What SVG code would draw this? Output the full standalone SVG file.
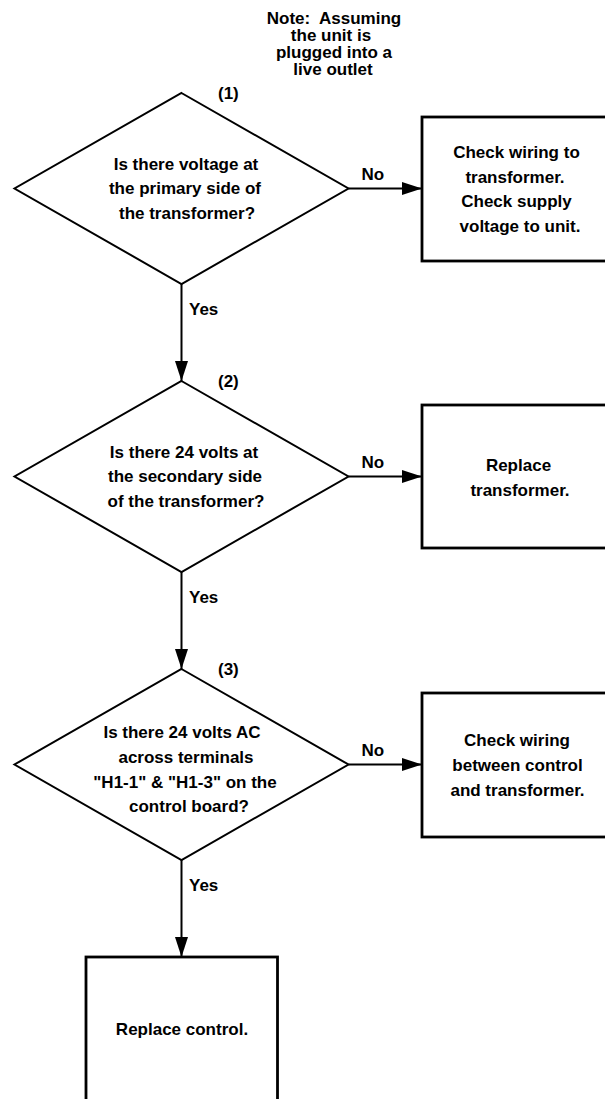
<svg xmlns="http://www.w3.org/2000/svg" width="605" height="1099" viewBox="0 0 605 1099">
<style>
text{font-family:"Liberation Sans",Arial,Helvetica,sans-serif;font-weight:bold;font-size:17px;fill:#000}
.c{text-anchor:middle}
.dia{fill:#fff;stroke:#000;stroke-width:2}
.box{fill:#fff;stroke:#000;stroke-width:2.8}
.con{fill:none;stroke:#000;stroke-width:2;marker-end:url(#ah)}
</style>
<defs>
<marker id="ah" markerUnits="userSpaceOnUse" markerWidth="20" markerHeight="13" refX="20" refY="6.5" orient="auto">
<path d="M0,0 L20,6.5 L0,13 Z" fill="#000"/>
</marker>
</defs>
<rect width="605" height="1099" fill="#fff"/>
<g id="note">
<text class="c" x="334" y="24">Note:&#160; Assuming</text>
<text class="c" x="331" y="41">the unit is</text>
<text class="c" x="334" y="58">plugged into a</text>
<text class="c" x="333" y="75">live outlet</text>
</g>
<g id="connectors">
<line class="con" x1="348.5" y1="188.5" x2="422" y2="188.5"/>
<line class="con" x1="181.5" y1="284" x2="181.5" y2="381"/>
<line class="con" x1="348.5" y1="476.5" x2="422" y2="476.5"/>
<line class="con" x1="181.5" y1="572" x2="181.5" y2="669"/>
<line class="con" x1="348.5" y1="764.5" x2="422" y2="764.5"/>
<line class="con" x1="181.5" y1="860" x2="181.5" y2="957"/>
<text x="361.5" y="180">No</text>
<text x="361.5" y="468">No</text>
<text x="361.5" y="756">No</text>
<text x="189" y="315">Yes</text>
<text x="189" y="603">Yes</text>
<text x="189" y="891">Yes</text>
</g>
<g id="d1">
<polygon class="dia" points="181.5,93 348.5,188.5 181.5,284 14.5,188.5"/>
<text x="218" y="98.5">(1)</text>
<text class="c" x="186" y="169.5">Is there voltage at</text>
<text class="c" x="185" y="194">the primary side of</text>
<text class="c" x="187" y="218.5">the transformer?</text>
</g>
<g id="b1">
<rect class="box" x="422" y="117" width="200" height="144"/>
<text class="c" x="516.5" y="158">Check wiring to</text>
<text class="c" x="515" y="182.5">transformer.</text>
<text class="c" x="516.5" y="207">Check supply</text>
<text class="c" x="520" y="231.5">voltage to unit.</text>
</g>
<g id="d2">
<polygon class="dia" points="181.5,381 348.5,476.5 181.5,572 14.5,476.5"/>
<text x="218" y="386.5">(2)</text>
<text class="c" x="184" y="457.5">Is there 24 volts at</text>
<text class="c" x="185" y="482">the secondary side</text>
<text class="c" x="186" y="506.5">of the transformer?</text>
</g>
<g id="b2">
<rect class="box" x="422" y="405" width="200" height="143"/>
<text class="c" x="518.5" y="470.5">Replace</text>
<text class="c" x="520" y="495.5">transformer.</text>
</g>
<g id="d3">
<polygon class="dia" points="181.5,669 348.5,764.5 181.5,860 14.5,764.5"/>
<text x="218" y="674.5">(3)</text>
<text class="c" x="182" y="737.5">Is there 24 volts AC</text>
<text class="c" x="186" y="762.5">across terminals</text>
<text class="c" x="185" y="787.5">"H1-1" &amp; "H1-3" on the</text>
<text class="c" x="189" y="812">control board?</text>
</g>
<g id="b3">
<rect class="box" x="422" y="693" width="200" height="144"/>
<text class="c" x="517" y="746">Check wiring</text>
<text class="c" x="517.5" y="771">between control</text>
<text class="c" x="517.5" y="796">and transformer.</text>
</g>
<g id="b4">
<rect class="box" x="86" y="957" width="191.5" height="200"/>
<text class="c" x="182" y="1035">Replace control.</text>
</g>
</svg>
